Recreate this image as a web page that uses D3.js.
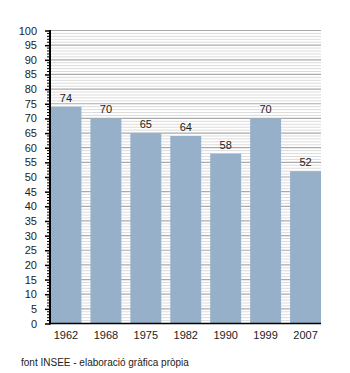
<!DOCTYPE html>
<html><head><meta charset="utf-8">
<script src="https://cdn.jsdelivr.net/npm/d3@7"></script>
<style>body{margin:0;background:#fff}svg{display:block}text{font-family:"Liberation Sans",Arial,sans-serif;fill:#222}</style>
</head><body>
<script>
const years = ["1962","1968","1975","1982","1990","1999","2007"];
const values = [74,70,65,64,58,70,52];
const yMajorTicks = [0,5,10,15,20,25,30,35,40,45,50,55,60,65,70,75,80,85,90,95,100];
const sourceText = "font INSEE - elaboració gràfica pròpia";

const W=350,H=373;
const svg=d3.select("body").append("svg").attr("width",W).attr("height",H);
const x=d3.scaleBand().domain(years).range([50.5,321]).paddingInner(0.225).paddingOuter(0);
const y=d3.scaleLinear().domain([0,100]).range([323.5,30.5]);

const minor=d3.range(0,101,1).filter(v=>v%5!==0);
svg.append("g").selectAll("line").data(minor).join("line")
 .attr("x1",50).attr("x2",321).attr("y1",d=>y(d)).attr("y2",d=>y(d))
 .attr("stroke","#dcdcdc").attr("stroke-width",1);
svg.append("g").selectAll("line").data(yMajorTicks.filter(v=>v>0)).join("line")
 .attr("x1",50).attr("x2",321).attr("y1",d=>y(d)).attr("y2",d=>y(d))
 .attr("stroke","#aaaaaa").attr("stroke-width",1.2);

svg.append("g").selectAll("rect").data(values).join("rect")
 .attr("x",(d,i)=>x(years[i])).attr("width",x.bandwidth())
 .attr("y",d=>y(d)).attr("height",d=>y(0)-y(d)).attr("fill","#97b0c9");

svg.append("g").selectAll("text").data(values).join("text")
 .attr("x",(d,i)=>x(years[i])+x.bandwidth()/2).attr("y",d=>y(d)-5)
 .attr("text-anchor","middle").attr("font-size","11px").text(d=>d);

// y axis
const yAxis=d3.axisLeft(y).tickValues(yMajorTicks).tickSize(5).tickPadding(8);
const ga=svg.append("g").attr("transform","translate(50,0)").call(yAxis);
ga.select(".domain").remove();
ga.selectAll("text").attr("font-size","11px").attr("font-family","Liberation Sans, Arial, sans-serif").attr("fill","#222");
ga.selectAll("line").attr("stroke","#000").attr("stroke-width",1.5);
svg.append("g").selectAll("line").data(minor).join("line")
 .attr("x1",47).attr("x2",50).attr("y1",d=>y(d)).attr("y2",d=>y(d)).attr("stroke","#000");
svg.append("line").attr("x1",50).attr("x2",50).attr("y1",y(100)-0.5).attr("y2",y(0)+1).attr("stroke","#000").attr("stroke-width",2);

// x axis
svg.append("line").attr("x1",49).attr("x2",321).attr("y1",y(0)).attr("y2",y(0)).attr("stroke","#000").attr("stroke-width",1.5);
const xa=d3.axisBottom(x).tickSize(0).tickPadding(8);
const gx=svg.append("g").attr("transform",`translate(0,${y(0)})`).call(xa);
gx.select(".domain").remove();
gx.selectAll("text").attr("font-size","11px").attr("font-family","Liberation Sans, Arial, sans-serif").attr("fill","#222");

svg.append("text").attr("x",21).attr("y",366).attr("font-size","10px").text(sourceText);
</script>
</body></html>
